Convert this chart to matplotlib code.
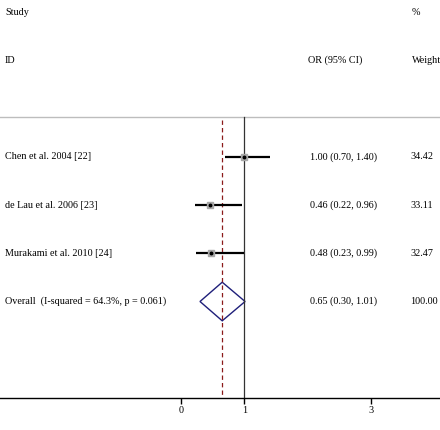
import matplotlib.pyplot as plt
import matplotlib.transforms as mtransforms
import numpy as np

plt.rcParams['font.family'] = ['Liberation Serif', 'DejaVu Serif']

studies = ['Chen et al. 2004 [22]', 'de Lau et al. 2006 [23]', 'Murakami et al. 2010 [24]']
odds = [1.00, 0.46, 0.48]
lower = [0.70, 0.22, 0.23]
upper = [1.40, 0.96, 0.99]
weights = [34.42, 33.11, 32.47]

overall_label = 'Overall  (I-squared = 64.3%, p = 0.061)'
overall_or = 0.65
overall_lo = 0.30
overall_hi = 1.01
overall_w = 100.00

xticks = [0, 1, 3]

fig = plt.figure(figsize=(4.4, 4.3), dpi=100)
ax = fig.add_axes([0, 32 / 430, 1, 398 / 430])
ax.set_xlim(-2.85, 4.08)
ax.set_ylim(8, -0.249)

for s in ['top', 'left', 'right']:
    ax.spines[s].set_visible(False)
ax.spines['bottom'].set_linewidth(1.0)
ax.set_yticks([])
ax.set_xticks(xticks)
ax.set_xticklabels([str(t) for t in xticks], fontsize=7.3)
ax.tick_params(axis='x', direction='out', length=4, width=1, pad=2)

tr = mtransforms.blended_transform_factory(ax.transAxes, ax.transData)
fs = 7.3

# header
ax.text(5 / 440, 0, 'Study', transform=tr, fontsize=fs, va='center')
ax.text(412 / 440, 0, '%', transform=tr, fontsize=fs, va='center')
ax.text(5 / 440, 1, 'ID', transform=tr, fontsize=fs, va='center')
ax.text(308 / 440, 1, 'OR (95% CI)', transform=tr, fontsize=fs, va='center')
ax.text(412 / 440, 1, 'Weight', transform=tr, fontsize=fs, va='center', clip_on=False)

top = 2.18
ax.axhline(top, color='#bdbdbd', lw=1)
ax.plot([1, 1], [top, 8], color='#333333', lw=0.9)
ax.plot([overall_or, overall_or], [top + 0.05, 8], color='#8b1a1a', lw=0.9, ls=(0, (3.5, 2.5)))

rows = np.arange(len(studies)) + 3
for y, name, o, lo, hi, w in zip(rows, studies, odds, lower, upper, weights):
    ax.plot([lo, hi], [y, y], color='black', lw=1.6, solid_capstyle='butt')
    ax.plot(o, y, marker='s', color='#a8a8a8', ms=4.2 * np.sqrt(w / 34.42), mec='#a8a8a8')
    ax.plot(o, y, marker='o', color='black', ms=1.8)
    ax.text(5 / 440, y, name, transform=tr, fontsize=fs, va='center')
    ax.text(310 / 440, y, '%.2f (%.2f, %.2f)' % (o, lo, hi), transform=tr, fontsize=fs, va='center')
    ax.text(410 / 440, y, '%.2f' % w, transform=tr, fontsize=fs, va='center')

yo = 3 + len(studies)
h = 0.40
ax.fill([overall_lo, overall_or, overall_hi, overall_or],
        [yo, yo - h, yo, yo + h], facecolor='none', edgecolor='#1f1f7a', lw=1.0)
ax.text(5 / 440, yo, overall_label, transform=tr, fontsize=fs, va='center')
ax.text(310 / 440, yo, '%.2f (%.2f, %.2f)' % (overall_or, overall_lo, overall_hi),
        transform=tr, fontsize=fs, va='center')
ax.text(410 / 440, yo, '%.2f' % overall_w, transform=tr, fontsize=fs, va='center')

fig.savefig('out.png', dpi=100)
plt.close()
